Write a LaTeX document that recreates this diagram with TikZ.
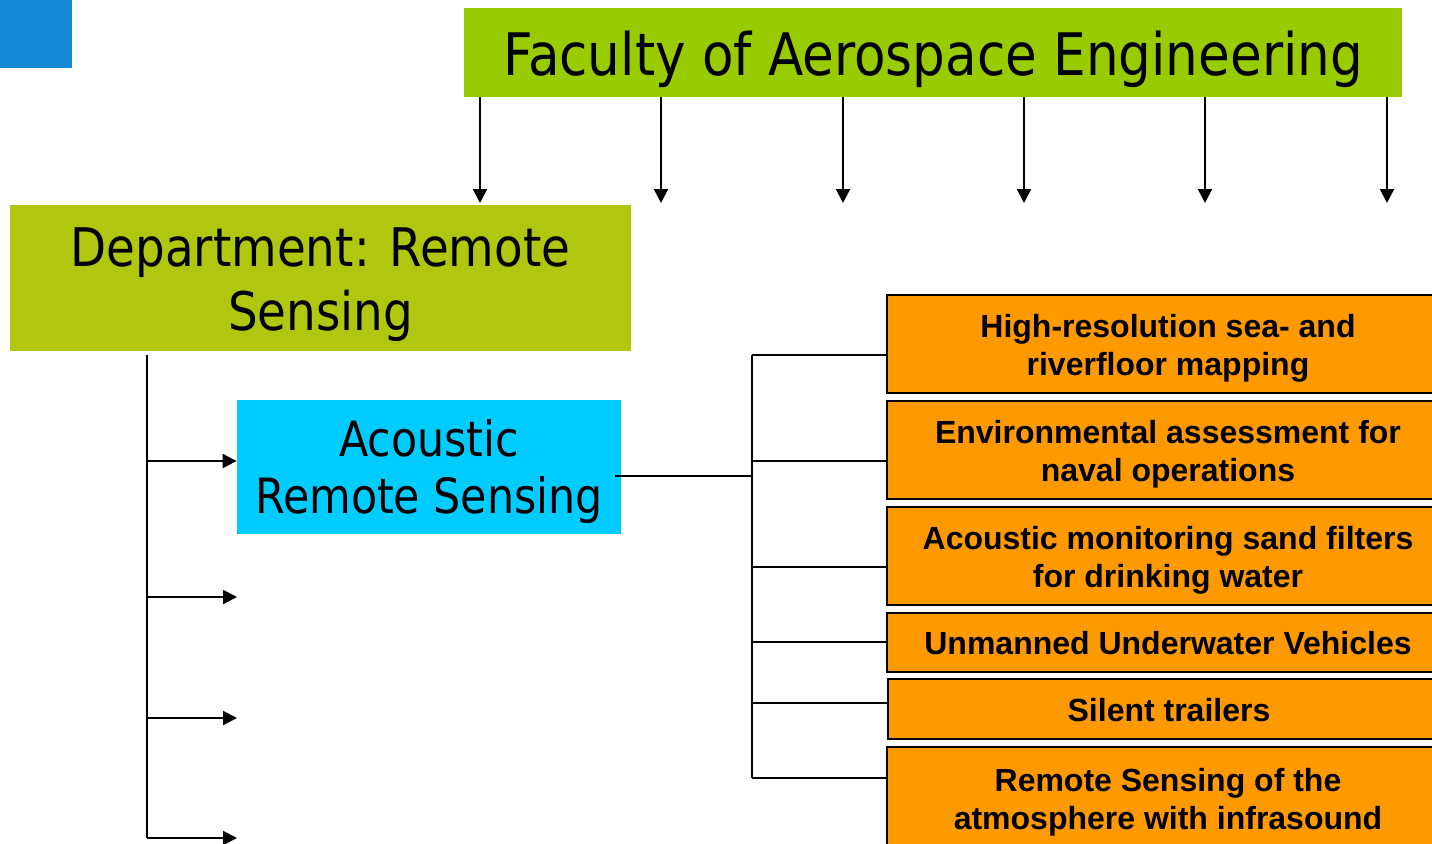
\documentclass[tikz,border=0pt]{standalone}
\usepackage{fontspec}
\setmainfont{Liberation Sans}
\newfontfamily\headfont[FakeStretch=0.88]{DejaVu Sans}
\usetikzlibrary{arrows.meta}

\definecolor{facgreen}{HTML}{99CC00}
\definecolor{deptgreen}{HTML}{AFC80F}
\definecolor{groupcyan}{HTML}{00CCFF}
\definecolor{topicorange}{HTML}{FF9900}
\definecolor{cornerblue}{HTML}{1589D6}

\tikzset{
  block/.style={rectangle, inner sep=0pt, align=center, text=black},
  topicbox/.style={block, fill=topicorange, draw=black, line width=1.2pt,
    minimum width=281pt},
  topictext/.style={align=center, inner sep=0pt, yshift=-2pt,
    font=\bfseries\fontsize{16pt}{19pt}\selectfont},
  wire/.style={draw=black, line width=1pt},
  feed/.style={wire, -{Triangle[width=7pt,length=7pt]}}
}

\begin{document}
\begin{tikzpicture}[x=0.5pt,y=-0.5pt]
\useasboundingbox (0,0) rectangle (1432,843);
\clip (0,0) rectangle (1432,843);

% corner marker
\node[block, fill=cornerblue, minimum width=36pt, minimum height=34pt] (corner) at (36,34) {};

% faculty banner
\node[block, fill=facgreen, minimum width=469pt, minimum height=44.5pt,
      label={[align=center, inner sep=0pt, yshift=-3.5pt,
              font=\headfont\fontsize{29.3pt}{34pt}\selectfont]center:Faculty of Aerospace Engineering}]
      (faculty) at (933,52.5) {};

% department
\node[block, fill=deptgreen, minimum width=310.5pt, minimum height=73pt,
      label={[align=center, inner sep=0pt, yshift=-3.5pt,
              font=\headfont\fontsize{26.6pt}{32pt}\selectfont]center:Department: Remote\\Sensing}]
      (dept) at (320.5,278) {};

% research group
\node[block, fill=groupcyan, minimum width=192pt, minimum height=67pt,
      label={[align=center, inner sep=0pt, yshift=-2.5pt,
              font=\headfont\fontsize{24.3pt}{28.5pt}\selectfont]center:Acoustic\\Remote Sensing}]
      (group) at (429,467) {};

% research topics
\node[topicbox, minimum height=49pt,
      label={[topictext]center:High-resolution sea- and\\riverfloor mapping}] (t1) at (1168,344) {};
\node[topicbox, minimum height=49pt,
      label={[topictext]center:Environmental assessment for\\naval operations}] (t2) at (1168,450) {};
\node[topicbox, minimum height=49pt,
      label={[topictext]center:Acoustic monitoring sand filters\\for drinking water}] (t3) at (1168,556) {};
\node[topicbox, minimum height=29.5pt,
      label={[topictext, yshift=1.5pt]center:Unmanned Underwater Vehicles}] (t4) at (1168,642.5) {};
\node[topicbox, minimum height=30pt,
      label={[topictext, yshift=1.5pt]center:Silent trailers}] (t5) at (1169,709) {};
\node[topicbox, minimum height=51pt,
      label={[topictext]center:Remote Sensing of the\\atmosphere with infrasound}] (t6) at (1168,798) {};

% arrows leaving the faculty banner
\foreach \x [count=\i] in {480,661,843,1024,1205,1387}{
  \coordinate (f\i) at (\x,203);
  \draw[feed] (f\i |- faculty.south) -- (f\i);
}

% department trunk and its branches
\coordinate (dtop) at (147,355);
\coordinate (d1) at (147,461);
\coordinate (d2) at (147,597);
\coordinate (d3) at (147,718);
\coordinate (d4) at (147,838);
\coordinate (e2) at (237,597);
\coordinate (e3) at (237,718);
\coordinate (e4) at (237,838);
\draw[wire] (dtop) -- (d4);
\draw[feed] (d1) -- (d1 -| group.west);
\draw[feed] (d2) -- (e2);
\draw[feed] (d3) -- (e3);
\draw[feed] (d4) -- (e4);

% group bus to the topics
\coordinate (bus) at (752,476);
\draw[wire] ([xshift=-3pt]group.east |- bus) -- (bus);
\draw[wire] (752,355) -- (752,778);
\foreach \n/\y in {t1/355,t2/461,t3/567,t4/642,t5/703,t6/778}{
  \draw[wire] (752,\y) -- (\n.west |- 0,\y);
}
\end{tikzpicture}
\end{document}
